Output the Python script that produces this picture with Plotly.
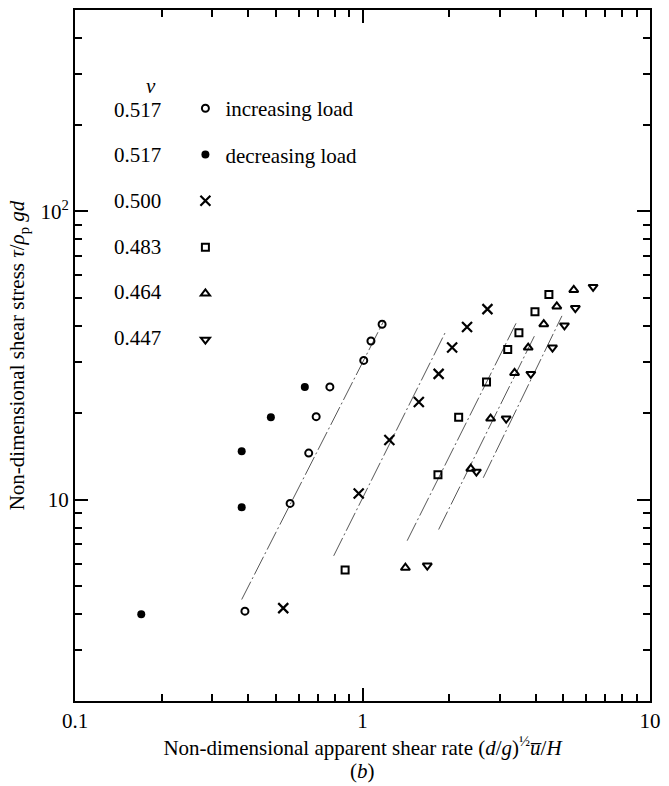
import plotly.graph_objects as go

# ---- data ----
nu_values = ["0.517", "0.517", "0.500", "0.483", "0.464", "0.447"]
series_names = ["increasing load", "decreasing load", "", "", "", ""]

inc_x = [0.39, 0.56, 0.65, 0.69, 0.77, 1.01, 1.07, 1.17]
inc_y = [4.1, 9.7, 14.5, 19.4, 24.6, 30.4, 35.5, 40.6]

dec_x = [0.17, 0.38, 0.38, 0.48, 0.63]
dec_y = [4.0, 9.4, 14.7, 19.3, 24.6]

n500_x = [0.53, 0.97, 1.24, 1.57, 1.84, 2.05, 2.31, 2.72]
n500_y = [4.2, 10.5, 16.1, 21.8, 27.3, 33.7, 39.7, 45.8]

n483_x = [0.87, 1.83, 2.16, 2.70, 3.20, 3.50, 3.98, 4.45]
n483_y = [5.7, 12.2, 19.3, 25.6, 33.2, 37.9, 44.9, 51.5]

n464_x = [1.41, 2.38, 2.79, 3.38, 3.77, 4.27, 4.74, 5.43]
n464_y = [5.8, 12.8, 19.1, 27.5, 33.7, 40.6, 46.8, 53.4]

n447_x = [1.68, 2.49, 3.16, 3.85, 4.58, 5.04, 5.50, 6.34]
n447_y = [5.9, 12.5, 19.1, 27.3, 33.7, 40.2, 46.2, 54.7]

# fitted straight lines (end points)
fit_inc_x = [0.38, 1.19]
fit_inc_y = [4.5, 42.0]
fit_500_x = [0.794, 1.95]
fit_500_y = [6.38, 38.4]
fit_483_x = [1.43, 3.42]
fit_483_y = [7.2, 40.9]
fit_464_x = [1.84, 3.96]
fit_464_y = [7.87, 36.9]
fit_447_x = [2.63, 4.94]
fit_447_y = [11.9, 43.4]

x_tickvals = [0.1, 1, 10]
x_ticktext = ["0.1", "1", "10"]
y_tickvals = [10, 100]
y_ticktext = ["10", "10<sup>2</sup>"]

# ---- figure ----
FONT = "Liberation Serif"
FS = 21
fig = go.Figure()

for fx, fy in [(fit_inc_x, fit_inc_y), (fit_500_x, fit_500_y), (fit_483_x, fit_483_y),
               (fit_464_x, fit_464_y), (fit_447_x, fit_447_y)]:
    fig.add_trace(go.Scatter(x=fx, y=fy, mode="lines", showlegend=False, hoverinfo="skip",
                             line=dict(color="#444444", width=0.9, dash="20px,3px,2px,3px")))

series = [
    (inc_x, inc_y, "circle-open", 7, 2.0),
    (dec_x, dec_y, "circle", 8, 0),
    (n500_x, n500_y, "x-thin-open", 10, 2.2),
    (n483_x, n483_y, "square-open", 7, 2.0),
    (n464_x, n464_y, "triangle-up-open", 8, 2.0),
    (n447_x, n447_y, "triangle-down-open", 8, 2.0),
]
for i, (sx, sy, sym, sz, lw) in enumerate(series):
    fig.add_trace(go.Scatter(
        x=sx, y=sy, mode="markers", name=series_names[i] if series_names[i] else " ",
        legendgroup=f"g{i}",
        marker=dict(symbol=sym, size=sz, color="black", line=dict(color="black", width=lw)),
    ))

axis_common = dict(type="log", showline=True, linecolor="black", linewidth=2, mirror="allticks",
                   ticks="inside", ticklen=13, tickwidth=1.5, tickcolor="black",
                   showgrid=False, zeroline=False,
                   tickfont=dict(family=FONT, size=FS, color="black"))

minor_x = [v * m for m in (0.1, 1) for v in range(2, 10)]
minor_y = [v for v in range(3, 10)] + [v * 10 for v in range(2, 10)] + [200, 300, 400]

fig.update_xaxes(**axis_common, range=[-1, 1], tickmode="array", tickvals=x_tickvals, ticktext=x_ticktext,
                 minor=dict(ticks="inside", ticklen=7, tickwidth=1.5, tickcolor="black", tickvals=minor_x),
                 title=dict(text="Non-dimensional apparent shear rate (<i>d</i>/<i>g</i>)<sup>½</sup><i>u̅</i>/<i>H</i>",
                            font=dict(family=FONT, size=FS, color="black"), standoff=8))
fig.update_yaxes(**axis_common, range=[0.30103, 2.69897], tickmode="array", tickvals=y_tickvals, ticktext=y_ticktext,
                 minor=dict(ticks="inside", ticklen=7, tickwidth=1.5, tickcolor="black", tickvals=minor_y),
                 title=dict(text="Non-dimensional shear stress <i>τ</i>/<i>ρ</i><sub>p</sub> <i>gd</i>",
                            font=dict(family=FONT, size=FS, color="black"), standoff=10))

# legend header / values as annotations
row0 = 0.856
row_step = 45.8 / 693
ann = [dict(text="<i>ν</i>", x=0.132, y=0.89, xref="paper", yref="paper", showarrow=False,
            xanchor="center", yanchor="middle",
            font=dict(family=FONT, size=FS, color="black"))]
for k, v in enumerate(nu_values):
    ann.append(dict(text=v, x=0.064, y=row0 - k * row_step, xref="paper", yref="paper",
                    xanchor="left", yanchor="middle", showarrow=False,
                    font=dict(family=FONT, size=FS, color="black")))
ann.append(dict(text="(<i>b</i>)", x=0.5, y=-0.101, xref="paper", yref="paper", showarrow=False,
                xanchor="center", yanchor="middle", font=dict(family=FONT, size=FS, color="black")))

fig.update_layout(
    width=669, height=786,
    margin=dict(l=75, r=12, t=8, b=85),
    paper_bgcolor="white", plot_bgcolor="white",
    font=dict(family=FONT, size=FS, color="black"),
    annotations=ann,
    legend=dict(x=0.192, y=0.887, xanchor="left", yanchor="top", bgcolor="rgba(0,0,0,0)",
                traceorder="grouped", tracegroupgap=16, itemwidth=30,
                font=dict(family=FONT, size=FS, color="black")),
)

fig.write_html("out.html")
